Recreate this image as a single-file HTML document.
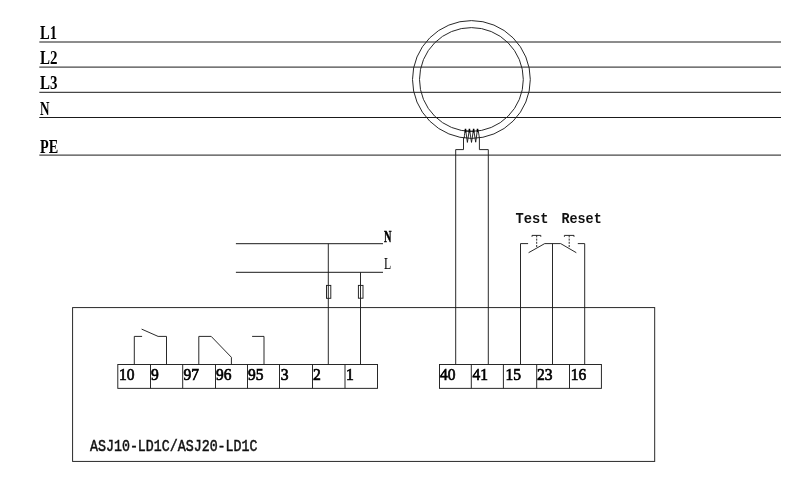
<!DOCTYPE html>
<html><head><meta charset="utf-8">
<style>
html,body{margin:0;padding:0;background:#fff;width:800px;height:483px;overflow:hidden}
svg{display:block;will-change:transform}
.ln{stroke:#1e1e1e;stroke-width:0.95;fill:none}
.bus{stroke:#1a1a1a;stroke-width:1;fill:none}
.ser{font-family:"Liberation Serif",serif;font-weight:bold;fill:#000}
.mono{font-family:"Liberation Mono",monospace;font-weight:bold;fill:#111}
</style></head><body>
<svg width="800" height="483" viewBox="0 0 800 483">
<!-- bus lines -->
<g class="bus">
<line x1="39.3" y1="42" x2="781" y2="42"/>
<line x1="39.3" y1="67.1" x2="781" y2="67.1"/>
<line x1="39.3" y1="92.3" x2="781" y2="92.3"/>
<line x1="39.3" y1="117.5" x2="781" y2="117.5"/>
<line x1="39.3" y1="155.1" x2="781" y2="155.1"/>
</g>
<g class="ser" font-size="19">
<text x="40" y="39" textLength="17" lengthAdjust="spacingAndGlyphs">L1</text>
<text x="40" y="64.2" textLength="17.5" lengthAdjust="spacingAndGlyphs">L2</text>
<text x="40" y="89" textLength="17.5" lengthAdjust="spacingAndGlyphs">L3</text>
<text x="40" y="114.5" textLength="9.5" lengthAdjust="spacingAndGlyphs">N</text>
<text x="40" y="152.9" textLength="18.2" lengthAdjust="spacingAndGlyphs">PE</text>
</g>
<!-- current transformer -->
<g class="ln">
<circle cx="471.4" cy="79.5" r="58.9"/>
<circle cx="471.4" cy="79.5" r="51.9"/>
<path d="M463.5,138 V149.6 H455.7 V364.5"/>
<path d="M479.4,138 V149.6 H488.3 V364.5"/>
</g>
<g fill="none" stroke="#111">
<path d="M464.3,138.2 C464.3,135 465,131 465.5,129 L467.4,142.4 L469.45,129 L471.5,142.4 L473.6,129 L475.7,142.2 L477.5,129 C478.3,131 479,135 479.4,138" stroke-width="0.9"/>
<path d="M465.5,128.8 V132.6 M469.45,128.8 V132.6 M473.6,128.8 V132.6 M477.5,128.8 V132" stroke-width="1.5" stroke="#000"/>
<path d="M465.5,131.2 H473.6" stroke-width="0.8"/>
</g>
<!-- power N/L -->
<g class="bus">
<line x1="235.9" y1="243.7" x2="383" y2="243.7"/>
<line x1="235.9" y1="272.3" x2="383" y2="272.3"/>
</g>
<g class="ln">
<line x1="328.3" y1="243.7" x2="328.3" y2="364.5"/>
<line x1="360.5" y1="272.3" x2="360.5" y2="364.5"/>
<rect x="326.5" y="285.4" width="4.3" height="12.9"/>
<rect x="358.4" y="285.4" width="4.6" height="12.8"/>
</g>
<text class="ser" x="384" y="241.6" font-size="16.5" stroke="#000" stroke-width="0.45" textLength="7.5" lengthAdjust="spacingAndGlyphs">N</text>
<text class="ser" x="384" y="269" font-size="16.5" font-weight="normal" textLength="7.2" lengthAdjust="spacingAndGlyphs" style="font-weight:normal">L</text>
<!-- main box -->
<rect class="ln" x="72.6" y="307.6" width="582.1" height="153.8"/>
<!-- left terminal block -->
<g class="ln">
<rect x="117.8" y="364.5" width="259.7" height="23.85"/>
<line x1="150.5" y1="364.5" x2="150.5" y2="388.35"/>
<line x1="182.7" y1="364.5" x2="182.7" y2="388.35"/>
<line x1="215.5" y1="364.5" x2="215.5" y2="388.35"/>
<line x1="247.5" y1="364.5" x2="247.5" y2="388.35"/>
<line x1="279.5" y1="364.5" x2="279.5" y2="388.35"/>
<line x1="312.5" y1="364.5" x2="312.5" y2="388.35"/>
<line x1="345" y1="364.5" x2="345" y2="388.35"/>
<!-- relay contacts -->
<path d="M134.3,364.5 V336.4 H142.1"/>
<path d="M141.6,329.1 L158.1,336.4 H166.5 V364.5"/>
<path d="M198.8,364.5 V336.4 H211.2 L231.4,357.3 V364.5"/>
<path d="M252.1,336.4 H264 V364.5"/>
</g>
<g class="ser" font-size="16.8" style="font-weight:normal" stroke="#000" stroke-width="0.7">
<text x="119" y="379.5" textLength="15.5" lengthAdjust="spacingAndGlyphs">10</text>
<text x="151" y="379.5" textLength="7.8" lengthAdjust="spacingAndGlyphs">9</text>
<text x="183.5" y="379.5" textLength="15.5" lengthAdjust="spacingAndGlyphs">97</text>
<text x="216" y="379.5" textLength="15.5" lengthAdjust="spacingAndGlyphs">96</text>
<text x="248" y="379.5" textLength="15.5" lengthAdjust="spacingAndGlyphs">95</text>
<text x="280.8" y="379.5" textLength="7.8" lengthAdjust="spacingAndGlyphs">3</text>
<text x="313" y="379.5" textLength="7.8" lengthAdjust="spacingAndGlyphs">2</text>
<text x="346" y="379.5" textLength="7.8" lengthAdjust="spacingAndGlyphs">1</text>
</g>
<!-- right terminal block -->
<g class="ln">
<rect x="439.5" y="364.5" width="161.9" height="23.85"/>
<line x1="471.3" y1="364.5" x2="471.3" y2="388.35"/>
<line x1="503.4" y1="364.5" x2="503.4" y2="388.35"/>
<line x1="536.7" y1="364.5" x2="536.7" y2="388.35"/>
<line x1="569.5" y1="364.5" x2="569.5" y2="388.35"/>
<!-- test / reset -->
<path d="M520.5,364.5 V243.6 H528.1"/>
<path d="M528.6,252.7 L544.7,243.6 H560.7 L576.3,252.7"/>
<line x1="552.5" y1="243.6" x2="552.5" y2="364.5"/>
<path d="M577.8,243.6 H584.7 V364.5"/>
<path d="M532,236.8 V235.4 H540.8 V236.8"/>
<path d="M564.4,236.8 V235.4 H574 V236.8"/>
<line x1="536.7" y1="235.4" x2="536.7" y2="248" stroke-dasharray="2,1.2"/>
<line x1="569.2" y1="235.4" x2="569.2" y2="248" stroke-dasharray="2,1.2"/>
</g>
<g class="ser" font-size="16.8" style="font-weight:normal" stroke="#000" stroke-width="0.7">
<text x="440" y="379.5" textLength="15.5" lengthAdjust="spacingAndGlyphs">40</text>
<text x="472.5" y="379.5" textLength="15.5" lengthAdjust="spacingAndGlyphs">41</text>
<text x="505.5" y="379.5" textLength="15.5" lengthAdjust="spacingAndGlyphs">15</text>
<text x="537.1" y="379.5" textLength="15.5" lengthAdjust="spacingAndGlyphs">23</text>
<text x="570.8" y="379.5" textLength="15.5" lengthAdjust="spacingAndGlyphs">16</text>
</g>
<g class="mono" font-size="15.5">
<text x="515.6" y="222.5" textLength="33" lengthAdjust="spacingAndGlyphs">Test</text>
<text x="561.4" y="222.5" textLength="40.3" lengthAdjust="spacingAndGlyphs">Reset</text>
<text x="90" y="451.4" font-size="15.6" textLength="167.5" lengthAdjust="spacingAndGlyphs" style="font-weight:normal" stroke="#111" stroke-width="0.5">ASJ10-LD1C/ASJ20-LD1C</text>
</g>
</svg>
</body></html>
